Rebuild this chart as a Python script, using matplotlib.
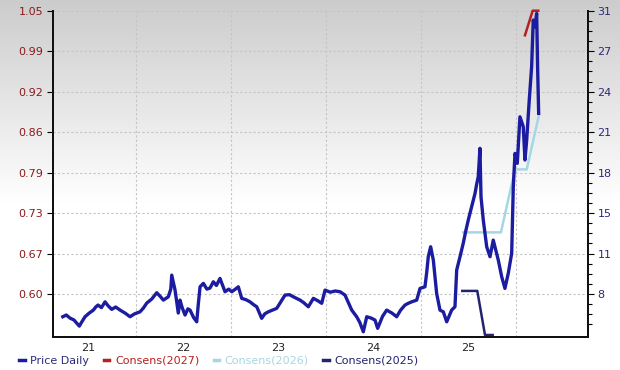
import matplotlib
matplotlib.use("Agg")
import matplotlib.pyplot as plt
import numpy as np

# price daily (right axis), x in decimal years
price_t = [2021.233, 2021.27, 2021.309, 2021.35, 2021.407, 2021.43, 2021.467, 2021.51, 2021.555, 2021.58,
           2021.604, 2021.64, 2021.678, 2021.71, 2021.748, 2021.79, 2021.836, 2021.89, 2021.941, 2021.99,
           2022.046, 2022.08, 2022.117, 2022.17, 2022.222, 2022.26, 2022.292, 2022.344, 2022.37, 2022.380,
           2022.415, 2022.449, 2022.467, 2022.49, 2022.520, 2022.55, 2022.573, 2022.61, 2022.643, 2022.66,
           2022.678, 2022.713, 2022.75, 2022.783, 2022.818, 2022.85, 2022.888, 2022.941, 2022.98, 2023.012,
           2023.05, 2023.081, 2023.117, 2023.16, 2023.204, 2023.24, 2023.275, 2023.327, 2023.36, 2023.397,
           2023.44, 2023.485, 2023.53, 2023.573, 2023.62, 2023.660, 2023.731, 2023.77, 2023.818, 2023.871,
           2023.92, 2023.959, 2023.994, 2024.05, 2024.10, 2024.152, 2024.204, 2024.24, 2024.275, 2024.327,
           2024.36, 2024.397, 2024.433, 2024.48, 2024.520, 2024.548, 2024.60, 2024.643, 2024.70, 2024.748,
           2024.79, 2024.836, 2024.87, 2024.906, 2024.959, 2024.994, 2025.046, 2025.065, 2025.081, 2025.106,
           2025.134, 2025.169, 2025.204, 2025.239, 2025.275, 2025.30, 2025.327, 2025.362, 2025.380, 2025.415,
           2025.449, 2025.475, 2025.502, 2025.538, 2025.573, 2025.59, 2025.607, 2025.625, 2025.636, 2025.660,
           2025.696, 2025.731, 2025.765, 2025.79, 2025.818, 2025.854, 2025.888, 2025.923, 2025.959, 2025.976,
           2025.994, 2026.018, 2026.046, 2026.081, 2026.099, 2026.117, 2026.144, 2026.169, 2026.186, 2026.204,
           2026.222, 2026.232, 2026.243]
price_v = [6.16, 6.30, 6.05, 5.90, 5.40, 5.70, 6.16, 6.45, 6.70, 6.95,
           7.11, 6.90, 7.37, 7.05, 6.76, 6.95, 6.70, 6.45, 6.16, 6.40,
           6.56, 6.85, 7.27, 7.60, 8.11, 7.80, 7.51, 7.78, 8.40, 9.54,
           8.32, 6.46, 7.51, 6.90, 6.30, 6.80, 6.70, 6.10, 5.75, 7.20,
           8.59, 8.87, 8.40, 8.49, 9.00, 8.70, 9.27, 8.19, 8.40, 8.19,
           8.40, 8.59, 7.65, 7.55, 7.37, 7.15, 6.97, 6.03, 6.40, 6.56,
           6.70, 6.84, 7.40, 7.92, 7.95, 7.78, 7.51, 7.30, 6.97, 7.65,
           7.45, 7.25, 8.32, 8.15, 8.25, 8.19, 7.92, 7.30, 6.70, 6.16,
           5.70, 4.94, 6.16, 6.05, 5.89, 5.22, 6.20, 6.70, 6.45, 6.16,
           6.70, 7.11, 7.25, 7.37, 7.51, 8.46, 8.59, 9.80, 11.03, 11.84,
           10.76, 8.06, 6.70, 6.56, 5.75, 6.20, 6.70, 6.97, 9.95, 11.03,
           12.12, 13.10, 14.01, 15.09, 16.17, 16.90, 17.52, 19.83, 15.90, 14.01,
           11.84, 11.03, 12.38, 11.60, 10.76, 9.40, 8.46, 9.68, 11.30, 16.71,
           19.42, 18.61, 22.39, 21.58, 18.88, 20.50, 23.75, 26.45, 30.24, 29.70,
           30.78, 26.45, 22.67]

# consensus estimates (left axis)
c27_t = [2026.099, 2026.180, 2026.239]
c27_v = [1.011, 1.05, 1.05]
c26_t = [2025.449, 2025.846, 2025.994, 2026.117, 2026.246]
c26_v = [0.698, 0.698, 0.798, 0.798, 0.884]
c25_t = [2025.439, 2025.597, 2025.678, 2025.759]
c25_v = [0.605, 0.605, 0.535, 0.535]

left_labels = ["0.60", "0.67", "0.73", "0.79", "0.86", "0.92", "0.99", "1.05"]
right_labels = ["8", "11", "15", "18", "21", "24", "27", "31"]
year_labels = ["21", "22", "23", "24", "25"]

navy = "#1c1ca0"
red = "#b52020"
lblue = "#a6d6e4"
dnavy = "#23236e"

fig = plt.figure(figsize=(6.2, 3.7), dpi=100)

# background gradient: grey at top fading to white around the middle
bg = fig.add_axes([0, 0, 1, 1], zorder=-10)
rows = np.linspace(0, 1, 370)
shade = 0.80 + 0.20 * np.clip(rows / 0.55, 0, 1)
img = np.repeat(shade[:, None, None], 3, axis=2)
bg.imshow(img, aspect="auto", extent=[0, 1, 0, 1], interpolation="bilinear")
bg.axis("off")

ax = fig.add_axes([0.0855, 0.089, 0.8625, 0.882])
ax.patch.set_alpha(0)
ax2 = ax.twinx()

ax.set_xlim(2021.13, 2026.76)
ax.set_ylim(0.5317, 1.05)
ax2.set_ylim(4.51, 31)

lt = np.linspace(0.60, 1.05, 8)
rt = np.linspace(8, 31, 8)
ax.set_yticks(lt)
ax.set_yticklabels(left_labels, color="#8b1a1a", fontsize=8)
ax2.set_yticks(rt)
ax2.set_yticklabels(right_labels, color="#2a2a7a", fontsize=8)
ax2.set_yticks(np.arange(8 - 3 * 23 / 28, 31.01, 23 / 28), minor=True)
ax2.tick_params(axis="y", which="minor", length=3, width=0.8)
ax2.tick_params(axis="y", which="major", length=4, width=0.8, pad=3)
ax.tick_params(axis="y", length=4, width=0.8, pad=3)

ax.set_xticks(np.arange(2022, 2027))
ax.set_xticklabels([])
ax.set_xticks(np.arange(2021.5, 2026, 1), minor=True)
ax.set_xticklabels(year_labels, minor=True, fontsize=8, color="#222222")
ax.tick_params(axis="x", which="both", length=0, pad=4)

ax.grid(True, axis="both", which="major", color="#c4c4c4", linestyle=(0, (2, 2)), linewidth=0.8)

for a in (ax, ax2):
    a.spines["top"].set_visible(False)
    for s in ("left", "right", "bottom"):
        a.spines[s].set_linewidth(1.4)
        a.spines[s].set_color("#111111")

ax2.plot(price_t, price_v, color=navy, linewidth=2.4, solid_joinstyle="round")
ax.plot(c27_t, c27_v, color=red, linewidth=1.8, clip_on=False)
ax.plot(c26_t, c26_v, color=lblue, linewidth=1.8)
ax.plot(c25_t, c25_v, color=dnavy, linewidth=1.8, clip_on=False)

# legend
handles = [plt.Line2D([], [], color=c, linewidth=2.5) for c in (navy, red, lblue, dnavy)]
names = ["Price Daily", "Consens(2027)", "Consens(2026)", "Consens(2025)"]
leg = fig.legend(handles, names, loc="lower left", bbox_to_anchor=(0.015, -0.015), ncol=4,
                 frameon=False, fontsize=8, handlelength=0.5, handletextpad=0.5, columnspacing=1.3)
for t, c in zip(leg.get_texts(), ("#2a2a7a", red, lblue, dnavy)):
    t.set_color(c)

fig.savefig("out.png", dpi=100)
